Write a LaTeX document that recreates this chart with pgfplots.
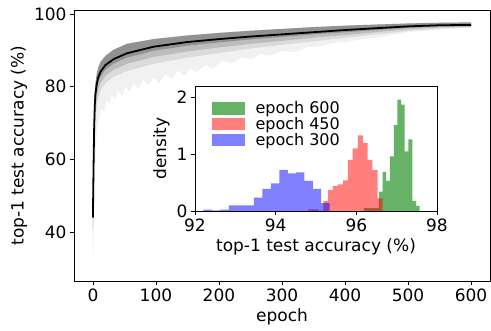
\documentclass[border=0pt]{standalone}
\usepackage{fontspec}
\setmainfont{DejaVu Sans}
\usepackage{pgfplots}
\pgfplotsset{compat=1.18}
\usepgfplotslibrary{fillbetween}
\usepackage{pgfplotstable}

\pgfplotstableread{
epoch mean up core mid lowd
0 44.0 46.0 41.0 38.5 36.0
1 58.0 63.0 55.0 51.0 47.0
2 69.0 73.5 66.5 62.5 59.0
3 75.0 78.5 73.0 69.5 66.0
4 78.0 81.0 76.3 73.0 70.0
6 80.5 83.5 79.0 76.5 74.0
8 82.3 85.0 81.0 78.8 76.5
12 84.1 86.8 82.8 81.0 79.0
20 86.0 88.5 84.7 83.0 81.0
33 87.6 90.2 86.4 84.7 82.8
54 89.2 91.8 88.0 86.3 84.3
96 91.0 93.1 89.9 88.2 86.3
150 92.3 94.1 91.3 89.7 88.0
200 93.1 94.8 92.2 90.8 89.3
250 93.8 95.4 93.0 91.8 90.5
300 94.4 95.9 93.7 92.6 91.5
350 95.0 96.4 94.4 93.5 92.5
400 95.6 96.8 95.0 94.2 93.4
450 96.1 97.1 95.6 95.0 94.4
500 96.6 97.4 96.2 95.8 95.3
550 96.9 97.6 96.6 96.3 96.0
600 97.0 97.7 96.8 96.5 96.3
}\maindata

% lowest runs (faint streaks)
\pgfplotstableread{
epoch lowf
0 30
1 38
2 47
3 55
4 61
6 67
8 70
10 71.5
14 74
18 73
22 76.5
26 75
30 78
35 76.5
40 79
46 77.5
52 80
58 78.5
65 81
72 79.5
80 82
88 80.5
96 82.5
105 81
115 83.5
125 82
135 84.5
145 83
155 85
165 84
178 86
190 85
205 87
220 86.5
235 88
250 87.5
265 89
280 88.5
300 89.8
320 89.5
340 91
360 91
380 92
400 92.3
425 93
450 93.5
475 94.3
500 95
550 95.8
600 96.2
}\lowdata

% epoch 600 histogram (left edge, density), closed at the last edge
\pgfplotstableread{
x y
96.19 0
96.19 0.05
96.28 0.05
96.37 0.05
96.47 0.05
96.56 0.34
96.65 0.69
96.74 0.53
96.83 0.96
96.93 1.51
97.02 1.96
97.11 1.87
97.20 1.05
97.29 1.26
97.39 0.18
97.48 0.09
97.57 0
}\histA

% epoch 450
\pgfplotstableread{
x y
94.81 0
94.81 0.03
94.93 0.03
95.06 0
95.18 0.18
95.30 0.37
95.42 0.44
95.55 0.47
95.67 0.54
95.79 0.90
95.91 1.10
96.04 1.33
96.16 1.20
96.28 0.90
96.40 0.72
96.53 0.22
96.65 0
}\histB

% epoch 300
\pgfplotstableread{
x y
92.21 0
92.21 0.025
92.42 0.012
92.63 0.025
92.84 0.10
93.04 0.10
93.25 0.10
93.46 0.235
93.67 0.39
93.88 0.485
94.09 0.725
94.30 0.66
94.50 0.68
94.71 0.53
94.92 0.39
95.13 0.14
95.34 0
}\histC

\definecolor{hgreen}{RGB}{0,128,0}
\definecolor{hred}{RGB}{255,0,0}
\definecolor{hblue}{RGB}{0,0,255}
\definecolor{runs}{RGB}{80,80,80}

\begin{document}
\begin{tikzpicture}[font=\fontsize{17}{20}\selectfont]
\begin{axis}[
  at={(74pt,50pt)}, anchor=south west,
  scale only axis, width=416pt, height=271pt,
  xmin=-30, xmax=630, ymin=26.6, ymax=101.1,
  xtick={0,100,200,300,400,500,600},
  ytick={40,60,80,100},
  tick align=outside, tick pos=left, major tick length=4pt,
  axis line style={line width=0.8pt},
  every tick/.style={black, line width=0.8pt},
  xlabel={epoch}, ylabel={top-1 test accuracy (\%)},
  /pgf/number format/assume math mode=true,
]
\addplot[draw=none, name path=up] table[x=epoch, y=up] {\maindata};
\addplot[draw=none, name path=core] table[x=epoch, y=core] {\maindata};
\addplot[draw=none, name path=mid] table[x=epoch, y=mid] {\maindata};
\addplot[draw=none, name path=lowd] table[x=epoch, y=lowd] {\maindata};
\addplot[draw=none, name path=lowf] table[x=epoch, y=lowf] {\lowdata};
\addplot[fill=runs, fill opacity=0.08, draw=none] fill between[of=up and lowf];
\addplot[fill=runs, fill opacity=0.14, draw=none] fill between[of=up and lowd];
\addplot[fill=runs, fill opacity=0.22, draw=none] fill between[of=up and mid];
\addplot[fill=runs, fill opacity=0.40, draw=none] fill between[of=up and core];
\addplot[black, line width=1.8pt] table[x=epoch, y=mean] {\maindata};
\end{axis}

\begin{axis}[
  at={(195pt,120pt)}, anchor=south west,
  scale only axis, width=242pt, height=125pt,
  xmin=92, xmax=98, ymin=0, ymax=2.2,
  xtick={92,94,96,98}, ytick={0,1,2},
  tick align=outside, tick pos=left, major tick length=4pt,
  axis line style={line width=0.8pt},
  every tick/.style={black, line width=0.8pt},
  axis background/.style={fill=white},
  xlabel={top-1 test accuracy (\%)}, ylabel={density},
  /pgf/number format/assume math mode=true,
  legend cell align=left,
  legend image code/.code={\fill[#1] (0pt,-6.3pt) rectangle (33pt,6.3pt);},
  legend style={at={(0.055,0.90)}, anchor=north west, draw=none, fill=none,
    font=\fontsize{16}{18}\selectfont, row sep=0pt,
    nodes={inner sep=1pt},
    /tikz/every odd column/.append style={column sep=10pt}},
]
\addplot[const plot, draw=none, fill=hgreen, fill opacity=0.6] table {\histA} \closedcycle;
\addlegendentry{epoch 600}
\addplot[const plot, draw=none, fill=hred, fill opacity=0.5] table {\histB} \closedcycle;
\addlegendentry{epoch 450}
\addplot[const plot, draw=none, fill=hblue, fill opacity=0.5] table {\histC} \closedcycle;
\addlegendentry{epoch 300}
\end{axis}
\pgfresetboundingbox
\path (0,0) rectangle (491pt,331pt);
\end{tikzpicture}
\end{document}
